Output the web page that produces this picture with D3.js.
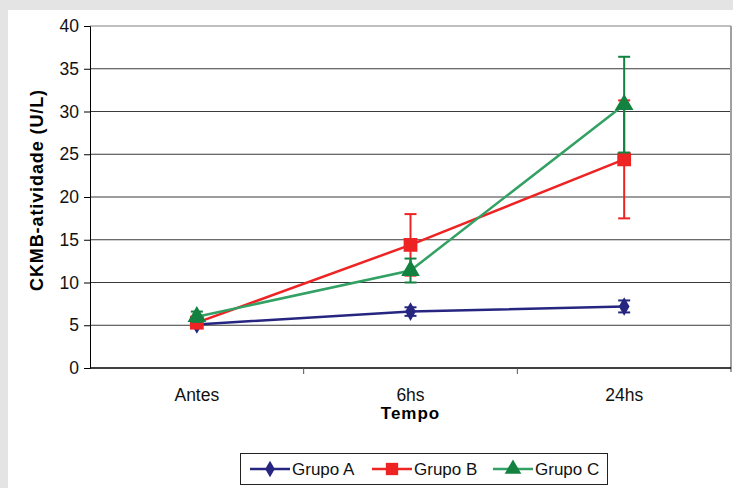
<!DOCTYPE html>
<html>
<head>
<meta charset="utf-8">
<script src="https://cdnjs.cloudflare.com/ajax/libs/d3/7.8.5/d3.min.js"></script>
<style>
  html, body { margin: 0; padding: 0; background: #e4e4e4; }
  svg { display: block; font-family: "Liberation Sans", Arial, sans-serif; }
</style>
</head>
<body>
<div id="chart"></div>
<script>
// data
var categorias = ["Antes", "6hs", "24hs"];
var grupos = ["Grupo A", "Grupo B", "Grupo C"];
var valoresA = [5.1, 6.6, 7.2];
var valoresB = [5.3, 14.4, 24.4];
var valoresC = [6.0, 11.4, 30.8];
var errosA = [0.3, 0.5, 0.7];
var errosB = [0.4, 3.6, 6.9];
var errosC = [0.6, 1.4, 5.6];
var ticksY = [0, 5, 10, 15, 20, 25, 30, 35, 40];

var width = 733, height = 488;
var margem = { left: 90, top: 26, right: 2, bottom: 120 };

var series = [
  { nome: grupos[0], valores: valoresA, erros: errosA, linha: "#262680", cor: "#262680", simbolo: d3.symbolDiamond, tam: 100 },
  { nome: grupos[1], valores: valoresB, erros: errosB, linha: "#ee2424", cor: "#ee2424", simbolo: d3.symbolSquare, tam: 190 },
  { nome: grupos[2], valores: valoresC, erros: errosC, linha: "#33a064", cor: "#13813f", simbolo: d3.symbolTriangle, tam: 150 }
];

var svg = d3.select("#chart").append("svg")
    .attr("width", width)
    .attr("height", height);

// white panel
svg.append("rect")
    .attr("x", 8).attr("y", 10)
    .attr("width", width - 8).attr("height", height - 10)
    .attr("fill", "#fff");

var x = d3.scaleBand()
    .domain(categorias)
    .range([margem.left, width - margem.right]);

var y = d3.scaleLinear()
    .domain([0, 40])
    .range([368, margem.top]);

// gridlines
svg.append("g")
    .selectAll("line")
    .data(ticksY.filter(function (d) { return d > 0; }))
    .enter().append("line")
    .attr("x1", margem.left).attr("x2", width - margem.right)
    .attr("y1", function (d) { return y(d); })
    .attr("y2", function (d) { return y(d); })
    .attr("stroke", function (d) { return d == 40 ? "#808080" : "#3a3a3a"; })
    .attr("stroke-width", 1);

// right border of plot area
svg.append("line")
    .attr("x1", width - 2).attr("x2", width - 2)
    .attr("y1", y(40)).attr("y2", y(0) + 4)
    .attr("stroke", "#a0a0a0")
    .attr("stroke-width", 2);

// y axis
var eixoY = svg.append("g")
    .attr("transform", "translate(" + margem.left + ",0)")
    .call(d3.axisLeft(y).tickValues(ticksY).tickSize(6).tickPadding(5));
eixoY.select(".domain").attr("stroke", "#000");
eixoY.selectAll(".tick line").attr("stroke", "#000");
eixoY.selectAll("text").attr("font-size", 17.5).attr("fill", "#111")
    .attr("font-family", "Liberation Sans, Arial, sans-serif");

// x axis: ticks between categories
var eixoX = svg.append("g")
    .attr("transform", "translate(0," + y(0) + ")");
eixoX.append("line")
    .attr("x1", margem.left).attr("x2", width - margem.right)
    .attr("stroke", "#000").attr("stroke-width", 1.5);
eixoX.selectAll(".sep")
    .data(categorias.slice(1))
    .enter().append("line")
    .attr("class", "sep")
    .attr("x1", function (d) { return x(d); })
    .attr("x2", function (d) { return x(d); })
    .attr("y1", 0).attr("y2", 6)
    .attr("stroke", "#555");
eixoX.selectAll("text")
    .data(categorias)
    .enter().append("text")
    .attr("x", function (d) { return x(d) + x.bandwidth() / 2; })
    .attr("y", 33)
    .attr("text-anchor", "middle")
    .attr("font-size", 17.5)
    .attr("fill", "#111")
    .text(function (d) { return d; });

// axis titles
svg.append("text")
    .attr("x", x("6hs") + x.bandwidth() / 2)
    .attr("y", 419)
    .attr("text-anchor", "middle")
    .attr("font-size", 17)
    .attr("font-weight", "bold")
    .attr("letter-spacing", 1)
    .text("Tempo");

svg.append("text")
    .attr("transform", "translate(43," + 190 + ") rotate(-90)")
    .attr("text-anchor", "middle")
    .attr("font-size", 18)
    .attr("font-weight", "bold")
    .attr("letter-spacing", 0.9)
    .text("CKMB-atividade (U/L)");

var cx = function (i) { return x(categorias[i]) + x.bandwidth() / 2; };

var linha = d3.line()
    .x(function (d, i) { return cx(i); })
    .y(function (d) { return y(d); });

series.forEach(function (s) {
    var g = svg.append("g");
    g.append("path")
        .attr("d", linha(s.valores))
        .attr("fill", "none")
        .attr("stroke", s.linha)
        .attr("stroke-width", 2.5);

    // error bars
    s.valores.forEach(function (v, i) {
        var e = s.erros[i];
        g.append("line")
            .attr("x1", cx(i)).attr("x2", cx(i))
            .attr("y1", y(v - e)).attr("y2", y(v + e))
            .attr("stroke", s.cor).attr("stroke-width", 2);
        [v - e, v + e].forEach(function (c) {
            g.append("line")
                .attr("x1", cx(i) - 6).attr("x2", cx(i) + 6)
                .attr("y1", y(c)).attr("y2", y(c))
                .attr("stroke", s.cor).attr("stroke-width", 2);
        });
    });

    g.selectAll(".m")
        .data(s.valores)
        .enter().append("path")
        .attr("class", "m")
        .attr("transform", function (d, i) { return "translate(" + cx(i) + "," + y(d) + ")"; })
        .attr("d", d3.symbol().type(s.simbolo).size(s.tam))
        .attr("fill", s.cor);
});

// legend
var leg = svg.append("g");
leg.append("rect")
    .attr("x", 240.5).attr("y", 453.5)
    .attr("width", 367).attr("height", 31)
    .attr("fill", "#fff")
    .attr("stroke", "#222");

var legX = [250, 372, 493];
series.forEach(function (s, i) {
    var gx = legX[i];
    leg.append("line")
        .attr("x1", gx).attr("x2", gx + 40)
        .attr("y1", 469).attr("y2", 469)
        .attr("stroke", s.linha).attr("stroke-width", 2.5);
    leg.append("path")
        .attr("transform", "translate(" + (gx + 20) + ",469)")
        .attr("d", d3.symbol().type(s.simbolo).size(s.tam * 0.8))
        .attr("fill", s.cor);
    leg.append("text")
        .attr("x", gx + 42)
        .attr("y", 475)
        .attr("font-size", 17)
        .attr("fill", "#111")
        .text(s.nome);
});
</script>
</body>
</html>
